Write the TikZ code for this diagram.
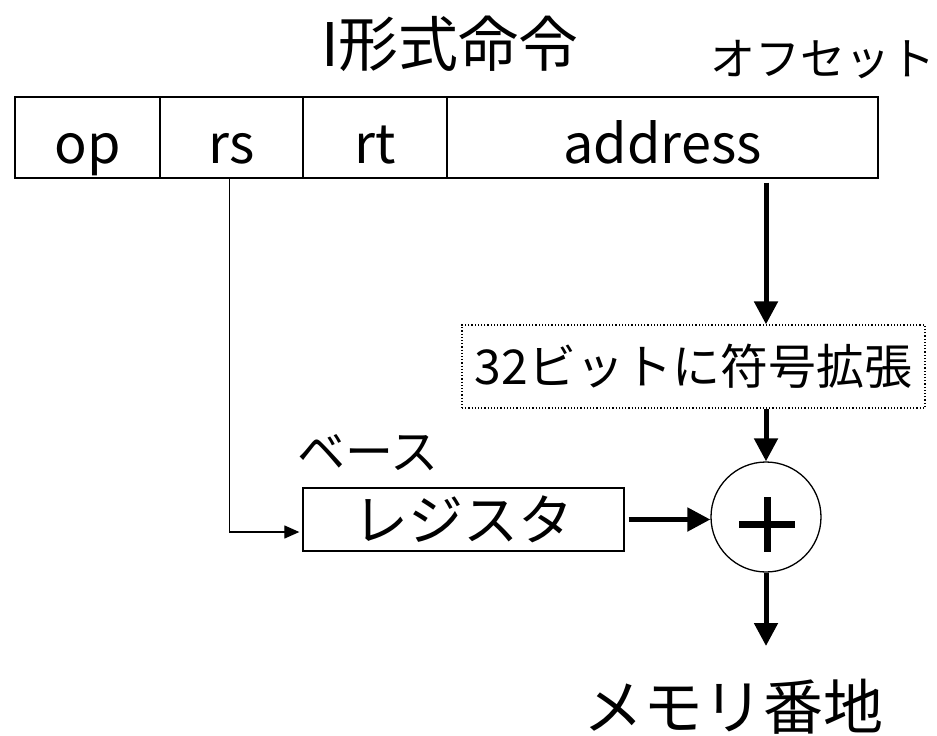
\documentclass[tikz,border=0pt]{standalone}
\usepackage{fontspec}
\setmainfont{Noto Sans CJK JP}
\usetikzlibrary{arrows.meta}
\begin{document}
\begin{tikzpicture}[x=1pt,y=-1pt,
  thickarrow/.style={line width=5pt,-{Triangle[length=23pt,width=23pt]}},
  thinarrow/.style={line width=1.2pt,-{Triangle[length=15pt,width=13pt]}},
  field/.style={draw,line width=1.3pt,inner sep=0pt,minimum height=81pt,
    text height=62pt,text depth=11pt,font=\fontsize{54}{58}\selectfont},
  plain/.style={inner sep=0pt}]
\useasboundingbox (0,0) rectangle (937,736);

\node[plain,font=\fontsize{60}{64}\selectfont] (title) at (450,44) {I形式命令};
\node[plain,font=\fontsize{45}{50}\selectfont] (offs) at (823,60) {オフセット};

\node[field,minimum width=145pt] (op) at (87.5,137.5) {op};
\node[field,minimum width=143pt] (rs) at (231.5,137.5) {rs};
\node[field,minimum width=144pt] (rt) at (375,137.5) {rt};
\node[field,minimum width=431pt] (addr) at (662.5,137.5) {address};

\node[draw,dotted,line width=1.2pt,inner sep=0pt,minimum width=463pt,minimum height=83pt,
  font=\fontsize{48}{52}\selectfont] (ext) at (693.5,366.5) {32ビットに符号拡張};

\node[plain,font=\fontsize{48}{52}\selectfont] (base) at (368,453) {ベース};
\node[draw,line width=1.3pt,inner sep=0pt,minimum width=321pt,minimum height=63pt,
  font=\fontsize{55}{60}\selectfont] (reg) at (463.5,519.5) {レジスタ};

\node[draw,circle,line width=1.3pt,minimum size=110pt,inner sep=0pt] (plus) at (766,517) {};
\draw[line width=7pt] ([shift={(-27,7)}]plus.center) -- ([shift={(29,7)}]plus.center);
\draw[line width=7pt] ([shift={(1,-20)}]plus.center) -- ([shift={(1,35)}]plus.center);

\node[plain,font=\fontsize{60}{64}\selectfont] (mem) at (733,707) {メモリ番地};
\coordinate (memtip) at (766,646);

\draw[thickarrow,shorten <=4pt] (addr.south -| plus.center) -- (ext.north -| plus.center);
\draw[thickarrow] (ext.south -| plus.center) -- (plus.north);
\draw[thickarrow,shorten <=4pt] (reg.east) -- (reg.east -| plus.west);
\draw[thickarrow] (plus.south) -- (memtip);
\draw[thinarrow,shorten >=3pt] ([xshift=-2pt]rs.south) |- ([shift={(0,12.5)}]reg.west);
\end{tikzpicture}
\end{document}
